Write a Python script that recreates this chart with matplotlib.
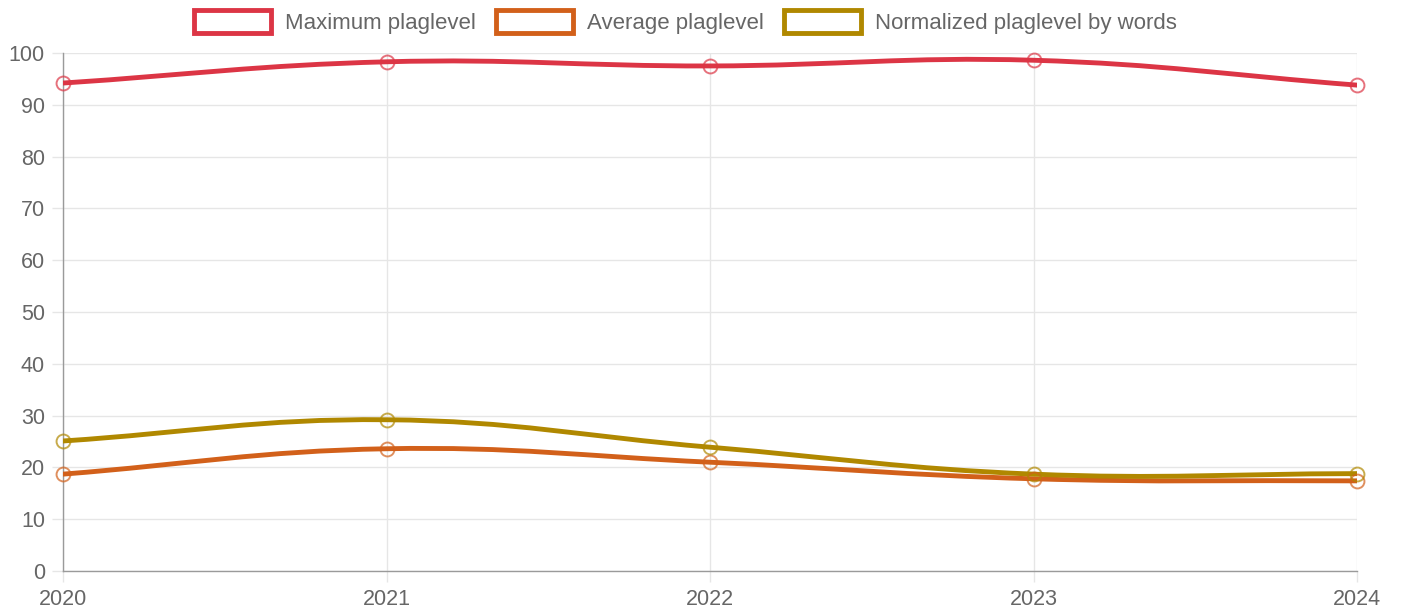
import numpy as np
import matplotlib
matplotlib.use("Agg")
from matplotlib import pyplot as plt
from matplotlib.path import Path
from matplotlib.patches import PathPatch, Patch

years = [2020, 2021, 2022, 2023, 2024]
max_plag = [94.2, 98.3, 97.5, 98.6, 93.8]
avg_plag = [18.7, 23.6, 21.0, 17.8, 17.4]
norm_plag = [25.1, 29.2, 23.9, 18.7, 18.8]

labels = ["Maximum plaglevel", "Average plaglevel", "Normalized plaglevel by words"]
colors = ["#dc3545", "#d2601a", "#b08800"]

plt.rcParams["font.family"] = ["Liberation Sans", "DejaVu Sans"]

fig = plt.figure(figsize=(14.02, 6.12), dpi=100)
ax = fig.add_axes([63 / 1402, 41 / 612, 1294 / 1402, 518 / 612])
ax.set_xlim(2020, 2024)
ax.set_ylim(0, 100)

# pixel scale for chart.js style spline (tension 0.4)
sx = 1294 / 4.0
sy = 518 / 100.0


def spline_path(xs, ys, tension=0.4):
    px = np.array(xs, dtype=float) * sx
    py = np.array(ys, dtype=float) * sy
    n = len(px)
    cp_prev = []
    cp_next = []
    for i in range(n):
        pi = max(i - 1, 0)
        ni = min(i + 1, n - 1)
        d01 = np.hypot(px[i] - px[pi], py[i] - py[pi])
        d12 = np.hypot(px[ni] - px[i], py[ni] - py[i])
        tot = d01 + d12
        s01 = d01 / tot if tot else 0
        s12 = d12 / tot if tot else 0
        fa = tension * s01
        fb = tension * s12
        cp_prev.append((px[i] - fa * (px[ni] - px[pi]), py[i] - fa * (py[ni] - py[pi])))
        cp_next.append((px[i] + fb * (px[ni] - px[pi]), py[i] + fb * (py[ni] - py[pi])))
    verts = [(px[0], py[0])]
    codes = [Path.MOVETO]
    for i in range(1, n):
        verts += [cp_next[i - 1], cp_prev[i], (px[i], py[i])]
        codes += [Path.CURVE4] * 3
    verts = [(vx / sx, vy / sy) for vx, vy in verts]
    return Path(verts, codes)


for vals, c in zip([max_plag, avg_plag, norm_plag], colors):
    ax.add_patch(PathPatch(spline_path(years, vals), facecolor="none", edgecolor=c,
                           lw=3.5, zorder=3, capstyle="round", joinstyle="round"))
    ax.plot(years, vals, "o", ms=10, mfc="none", mec=c, mew=1.4, alpha=0.7,
            zorder=4, clip_on=False)

ax.set_xticks(years)
ax.set_yticks(np.arange(0, 101, 10))
ax.grid(True, color="#e6e6e6", lw=1)
ax.set_axisbelow(True)
for s in ["top", "right"]:
    ax.spines[s].set_visible(False)
for s in ["left", "bottom"]:
    ax.spines[s].set_color("#9a9a9a")
    ax.spines[s].set_linewidth(1)
ax.tick_params(axis="both", colors="#e6e6e6", labelcolor="#666666", labelsize=15.5,
               length=8, width=1)
ax.tick_params(axis="x", pad=5)
ax.tick_params(axis="y", pad=5)

handles = [Patch(facecolor="white", edgecolor=c, lw=3.5) for c in colors]
fig.legend(handles, labels, loc="upper center", bbox_to_anchor=(0.4886, 1.016), ncol=3,
           frameon=False, fontsize=16, labelcolor="#666666", handlelength=3.5,
           handleheight=1.2, handletextpad=0.6, columnspacing=0.9)

plt.savefig("out.png", dpi=100)
